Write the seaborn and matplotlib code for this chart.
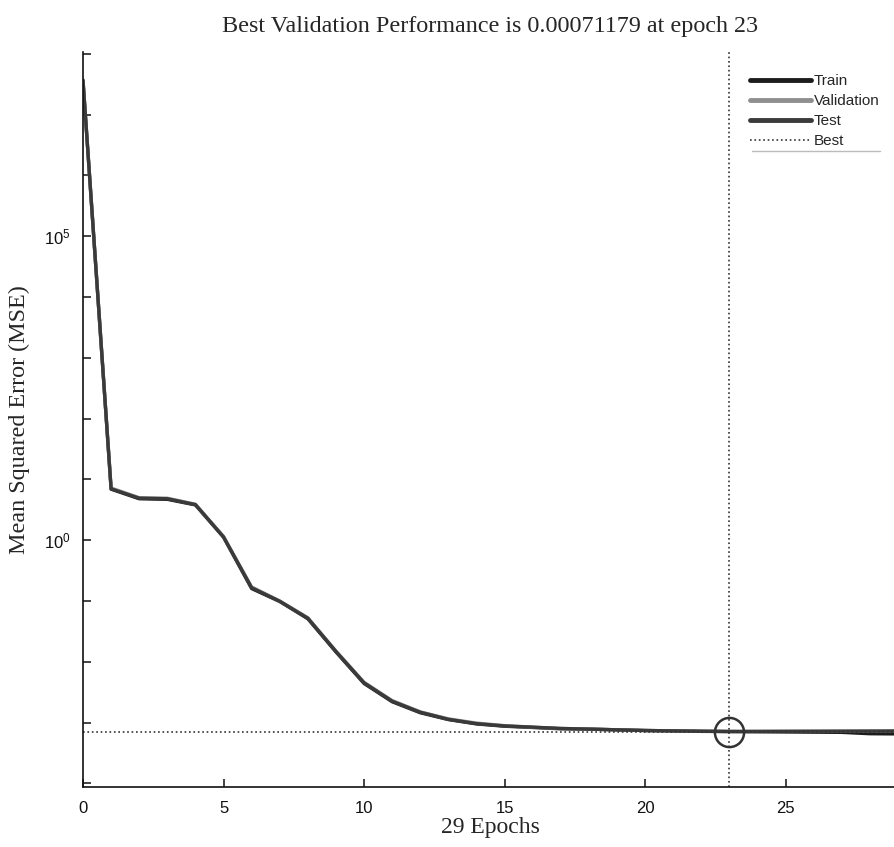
import numpy as np
import pandas as pd
import matplotlib.pyplot as plt
import matplotlib.lines as mlines
import seaborn as sns

# ------------------------------#
# Data (MSE per epoch)
epochs = list(range(0, 30))

train_mse = [3.7e7, 6.9, 4.8, 4.7, 3.8, 1.12, 0.16, 0.098, 0.051, 0.0145,
             0.0044, 0.0022, 0.00145, 0.00112, 0.00095, 0.00087, 0.00083, 0.00079, 0.00078, 0.00076,
             0.00074, 0.00073, 0.00072, 0.00071, 0.000705, 0.0007, 0.000695, 0.00069, 0.000655, 0.00065]

valid_mse = [3.5e7, 7.2, 5.0, 4.9, 3.9, 1.15, 0.17, 0.10, 0.053, 0.015,
             0.0046, 0.0023, 0.0015, 0.00115, 0.00098, 0.00089, 0.00084, 0.0008, 0.00078, 0.00076,
             0.00074, 0.00073, 0.000715, 0.00071179, 0.000714, 0.000716, 0.000718, 0.00072, 0.000722, 0.000725]

test_mse = [3.6e7, 7.0, 4.9, 4.8, 3.85, 1.13, 0.165, 0.099, 0.052, 0.0148,
            0.0045, 0.00225, 0.00148, 0.00113, 0.00096, 0.00088, 0.00084, 0.0008, 0.00078, 0.00076,
            0.00074, 0.00073, 0.000718, 0.000715, 0.000716, 0.000718, 0.00072, 0.000722, 0.000724, 0.000726]

best_epoch = 23
best_perf = 0.00071179

series_names = ["Train", "Validation", "Test"]
series_colors = {"Train": "#1c1c1c", "Validation": "#8f8f8f", "Test": "#3a3a3a"}

# y tick labels (only two decades labelled)
ytick_exps = list(range(-4, 9))
ytick_labels = ["$\\mathdefault{10^{%d}}$" % k if k in (0, 5) else "" for k in ytick_exps]

# ------------------------------#
# Long table for seaborn
perf = pd.DataFrame({
    "Epoch": epochs * 3,
    "MSE": train_mse + valid_mse + test_mse,
    "Series": sum([[s] * len(epochs) for s in series_names], []),
})

sns.set_style("white")
sans = ["Liberation Sans", "DejaVu Sans"]
serif = ["Liberation Serif", "DejaVu Serif"]
plt.rcParams["font.family"] = sans
plt.rcParams["mathtext.fontset"] = "custom"
plt.rcParams["mathtext.rm"] = "Liberation Sans"

fig = plt.figure(figsize=(8.95, 8.47), dpi=100)
ax = fig.add_axes([83 / 895, 1 - 787 / 847, 815 / 895, 735 / 847])

sns.lineplot(
    data=perf,
    x="Epoch",
    y="MSE",
    hue="Series",
    hue_order=series_names,
    palette=series_colors,
    linewidth=2.4,
    ax=ax,
    legend=False,
)

ax.set_yscale("log")
ax.set_xlim(0, 29)
ax.set_ylim(10 ** -4.06, 10 ** 8.03)

# best lines and circle
ax.axvline(best_epoch, ls=":", color="#333333", lw=1.2)
ax.axhline(best_perf, ls=":", color="#333333", lw=1.2)
ax.plot([best_epoch], [best_perf], marker="o", ms=21, mfc="none", mec="#333333", mew=1.8)

# ticks
ax.set_xticks([0, 5, 10, 15, 20, 25])
ax.set_yticks([10.0 ** k for k in ytick_exps])
ax.set_yticklabels(ytick_labels)
ax.minorticks_off()
ax.xaxis.set_tick_params(which="major", bottom=True, direction="in", length=6, width=1.1,
                         labelsize=12, color="#111111", labelcolor="#111111", pad=10)
ax.yaxis.set_tick_params(which="major", left=True, direction="in", length=6, width=1.1,
                         labelsize=12, color="#111111", labelcolor="#111111", pad=9)

for side in ["top", "right"]:
    ax.spines[side].set_visible(False)
for side in ["left", "bottom"]:
    ax.spines[side].set_color("#111111")
    ax.spines[side].set_linewidth(1.2)

ax.set_title("Best Validation Performance is 0.00071179 at epoch 23",
             family=serif, fontsize=17.4, pad=14.5)
ax.set_xlabel("29 Epochs", family=serif, fontsize=17, labelpad=1)
ax.set_ylabel("Mean Squared Error (MSE)", family=serif, fontsize=17.4, labelpad=10)

handles = [
    mlines.Line2D([], [], color=series_colors["Train"], lw=3.5, label="Train"),
    mlines.Line2D([], [], color=series_colors["Validation"], lw=3.5, label="Validation"),
    mlines.Line2D([], [], color=series_colors["Test"], lw=3.5, label="Test"),
    mlines.Line2D([], [], color="#333333", lw=1.2, ls=":", label="Best"),
]
leg = ax.legend(handles=handles, loc="upper left", bbox_to_anchor=(744 / 895, 1 - 68 / 847),
                bbox_transform=fig.transFigure, frameon=False, fontsize=11,
                handlelength=4.0, handletextpad=0.15, labelspacing=0.4, borderaxespad=0)
fig.add_artist(mlines.Line2D([752 / 895, 880 / 895], [1 - 151 / 847, 1 - 151 / 847],
                             color="#bbbbbb", lw=1, transform=fig.transFigure))

plt.savefig("out.png", dpi=100)
